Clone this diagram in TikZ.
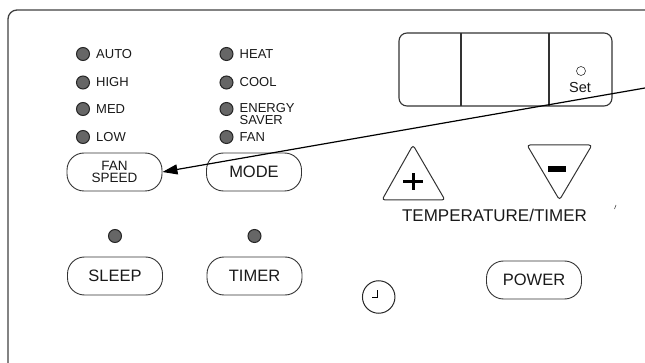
\documentclass[tikz,border=0pt]{standalone}
\usepackage{fontspec}
\setmainfont{Liberation Sans}
\usetikzlibrary{shapes, positioning, arrows.meta}

\tikzset{
  led/.style={circle, draw=black!85, fill=black!60, line width=1pt, minimum size=13pt, inner sep=0pt},
  btn/.style={draw=black!80, line width=0.9pt, rounded corners=17pt, minimum width=95pt, minimum height=38pt, inner sep=0pt, text=black!90, font=\fontsize{16.5}{16}\selectfont},
  every label/.style={inner sep=0pt, text=black!90, font=\fontsize{13}{11.5}\selectfont},
  label distance=6pt,
}

\begin{document}
\begin{tikzpicture}[x=1pt, y=-1pt]
        \useasboundingbox (0,0) rectangle (645,363);
        \draw[line width=1.3pt, black!75, rounded corners=9pt] (8,363) -- (8,10) -- (645,10);

        \node[led, label={0:AUTO}] (auto) at (83, 54) {};
        \node[led, label={0:HIGH}] (high) at (83, 82.5) {};
        \node[led, label={0:MED}] (med) at (83, 109) {};
        \node[led, label={0:LOW}] (low) at (83, 137) {};
        \node[led, label={0:HEAT}] (heat) at (226.5, 54) {};
        \node[led, label={0:COOL}] (cool) at (226.5, 82.5) {};
        \node[led, label={[align=left, yshift=-5pt]0:{ENERGY\\SAVER}}] (saver) at (226.5, 109) {};
        \node[led, label={0:FAN}] (fan) at (226.5, 137) {};

        \node[btn, align=center, font=\fontsize{13.5}{12.5}\selectfont] (fanspeed) at (114.5, 172) {FAN\\SPEED};
        \node[btn] (mode) at (254, 172) {MODE};
        \node[led] (sleepled) at (115, 236) {};
        \node[led] (timerled) at (254.5, 236) {};
        \node[btn] (sleep) at (115, 276) {SLEEP};
        \node[btn] (timer) at (254.5, 276) {TIMER};
        \node[btn] (power) at (534, 280) {POWER};

        \node[draw=black!80, line width=1.1pt, rounded corners=8pt, minimum width=213pt, minimum height=73pt] (display) at (505.5, 69.5) {};
        \draw[line width=1.1pt, black!80] (461,33) -- (461,106)
            (549,33) -- (549,106);
        \node[circle, draw=black!80, line width=0.6pt, minimum size=9pt, inner sep=0pt] (setled) at (581, 71) {};
        \node[text=black!90, font=\fontsize{14.5}{14}\selectfont] (setlabel) at (580, 87.5) {Set};

        \draw[line width=1pt, black!80, rounded corners=3pt] (413,145) -- (445,200) -- (382,200) -- cycle;
        \draw[line width=3pt] (403,182) -- (423,182)
            (413,173.5) -- (413,190.5);
        \draw[line width=1pt, black!80, rounded corners=3pt] (527,145) -- (592,145) -- (559.5,200) -- cycle;
        \fill (548,166.5) rectangle (566,172);
        \node[text=black!90, font=\fontsize{17}{17}\selectfont] (temptimer) at (494.5, 215.5) {TEMPERATURE/TIMER};

        \node[circle, draw=black!85, line width=1pt, minimum size=32.5pt, inner sep=0pt] (clock) at (378.7, 297) {};
        \draw[line width=0.8pt] (377.7,290.5) -- (377.7,297.3) -- (372.3,297.3);

        \draw[line width=0.6pt, black!70] (614.5,209) -- (616,205);

        \coordinate (arrowstart) at (645, 88);
        \draw[line width=1.2pt, -{Triangle[length=15pt, width=10pt]}] (arrowstart) -- (fanspeed.east);
    \end{tikzpicture}
\end{document}
